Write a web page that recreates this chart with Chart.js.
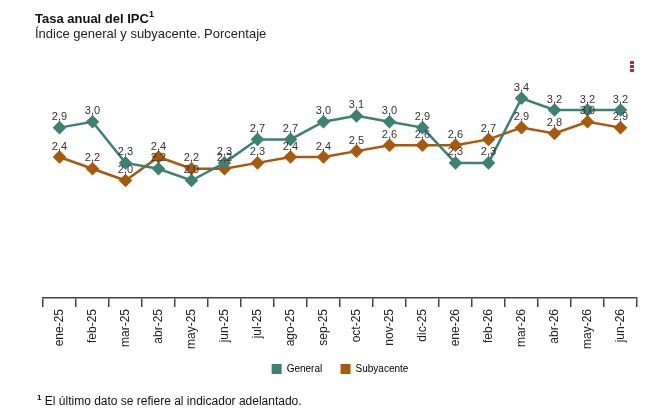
<!DOCTYPE html>
<html>
<head>
<meta charset="utf-8">
<script src="https://cdn.jsdelivr.net/npm/chart.js@4.4.1/dist/chart.umd.min.js"></script>
<style>
  body { margin: 0; background: #fff; font-family: "Liberation Sans", Arial, sans-serif; }
  #wrap { position: relative; width: 670px; height: 420px; }
  #ipcChart { position: absolute; left: 0; top: 0; }
  .title { position: absolute; left: 35px; top: 10px; font-size: 13px; font-weight: bold; color: #111; }
  .title sup { font-size: 9px; position: relative; top: -1px; }
  .subtitle { position: absolute; left: 35px; top: 26px; font-size: 13px; color: #222; }
  .note { position: absolute; left: 37px; top: 393px; font-size: 12px; color: #111; }
  .note sup { font-size: 8px; font-weight: bold; }
  .menu { position: absolute; left: 630px; top: 61px; width: 4px; }
  .menu span { display: block; width: 4px; height: 3px; background: #c0283a; margin-bottom: 1px; }
</style>
</head>
<body>
<div id="wrap">
  <canvas id="ipcChart" width="670" height="420"></canvas>
  <div class="title">Tasa anual del IPC<sup>1</sup></div>
  <div class="subtitle">Índice general y subyacente. Porcentaje</div>
  <div class="menu"><span></span><span></span><span></span></div>
  <div class="note"><sup>1</sup> El último dato se refiere al indicador adelantado.</div>
</div>
<script>
const meses = ["ene-25", "feb-25", "mar-25", "abr-25", "may-25", "jun-25", "jul-25", "ago-25", "sep-25",
    "oct-25", "nov-25", "dic-25", "ene-26", "feb-26", "mar-26", "abr-26", "may-26", "jun-26"];
const general = [2.9, 3.0, 2.3, 2.2, 2.0, 2.3, 2.7, 2.7, 3.0, 3.1, 3.0, 2.9, 2.3, 2.3, 3.4, 3.2, 3.2, 3.2];
const subyacente = [2.4, 2.2, 2.0, 2.4, 2.2, 2.2, 2.3, 2.4, 2.4, 2.5, 2.6, 2.6, 2.6, 2.7, 2.9, 2.8, 3.0, 2.9];

const colorGeneral = "#3f8074";
const colorSuby = "#a8590b";

// etiquetas de valor encima de cada punto
const etiquetas = {
    id: "etiquetas",
    afterDatasetsDraw(chart) {
        const ctx = chart.ctx;
        ctx.save();
        ctx.font = "11px 'Liberation Sans', Arial, sans-serif";
        ctx.fillStyle = "#333";
        ctx.textAlign = "center";
        ctx.textBaseline = "bottom";
        chart.data.datasets.forEach((ds, i) => {
            chart.getDatasetMeta(i).data.forEach((pt, j) => {
                ctx.fillText(ds.data[j].toFixed(1).replace(".", ","), pt.x, pt.y - 5);
            });
        });
        ctx.restore();
    },
};

new Chart(document.getElementById("ipcChart"), {
    type: "line",
    data: {
        labels: meses,
        datasets: [
            {
                label: "General",
                data: general,
                borderColor: colorGeneral,
                backgroundColor: colorGeneral,
                borderWidth: 2.5,
                pointStyle: "rectRot",
                pointRadius: 5,
                pointHoverRadius: 5,
                tension: 0,
            },
            {
                label: "Subyacente",
                data: subyacente,
                borderColor: colorSuby,
                backgroundColor: colorSuby,
                borderWidth: 2.5,
                pointStyle: "rectRot",
                pointRadius: 5,
                pointHoverRadius: 5,
                tension: 0,
            },
        ],
    },
    options: {
        responsive: false,
        animation: false,
        layout: { padding: { left: 43, right: 33, top: 63, bottom: 36 } },
        scales: {
            x: {
                offset: true,
                grid: {
                    offset: true,
                    drawOnChartArea: false,
                    drawTicks: true,
                    tickLength: 9,
                    color: "#444",
                    lineWidth: 1.5,
                },
                border: { display: true, color: "#444", width: 1.5 },
                ticks: {
                    minRotation: 90,
                    maxRotation: 90,
                    padding: 2,
                    color: "#222",
                    font: { family: "'Liberation Sans', Arial, sans-serif", size: 12 },
                },
                afterFit: (scale) => { scale.height = 56; },
            },
            y: {
                display: false,
                min: 0,
                max: 4,
            },
        },
        plugins: {
            legend: {
                position: "bottom",
                labels: {
                    boxWidth: 10,
                    boxHeight: 10,
                    padding: 10,
                    color: "#333",
                    font: { family: "'Liberation Sans', Arial, sans-serif", size: 10 },
                    // espacios al final para separar más los elementos
                    generateLabels: (chart) => chart.data.datasets.map((ds, i) => ({
                        text: i === 0 ? ds.label + "   " : ds.label,
                        fillStyle: ds.backgroundColor,
                        strokeStyle: ds.backgroundColor,
                        lineWidth: 0,
                        datasetIndex: i,
                    })),
                },
            },
            tooltip: { enabled: false },
        },
    },
    plugins: [etiquetas],
});
</script>
</body>
</html>
